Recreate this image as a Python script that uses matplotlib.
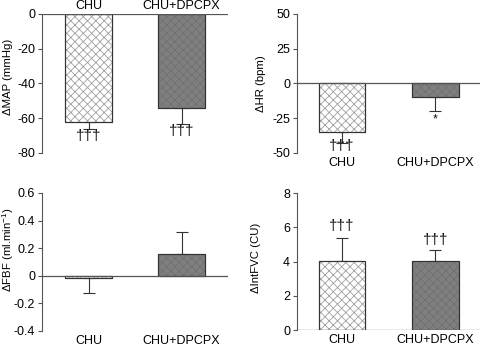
import numpy as np
import matplotlib
matplotlib.use("Agg")
import matplotlib.pyplot as plt
from matplotlib.transforms import blended_transform_factory

plt.rcParams['font.family'] = ['Liberation Sans', 'DejaVu Sans']
plt.rcParams['font.size'] = 9
plt.rcParams['hatch.linewidth'] = 0.6
plt.rcParams['mathtext.fontset'] = 'custom'
plt.rcParams['mathtext.rm'] = 'Liberation Sans'

groups = ['CHU', 'CHU+DPCPX']

# mean change and error bar length (one-sided SEM)
map_vals = [-62, -54]
map_err = [4, 9.5]
hr_vals = [-35, -10]
hr_err = [8, 9.5]
fbf_vals = [-0.015, 0.16]
fbf_err = [0.11, 0.155]
fvc_vals = [4.05, 4.02]
fvc_err = [1.35, 0.65]

map_marks = ['†††', '†††']
hr_marks = ['†††', '*']
fbf_marks = ['', '']
fvc_marks = ['†††', '†††']

fig = plt.figure(figsize=(4.8, 3.46), dpi=100)

# axes rectangles in figure fraction (left, bottom, width, height)
rects = [
    [0.0875, 0.558, 0.3875, 0.402],
    [0.619, 0.558, 0.385, 0.402],
    [0.0875, 0.0434, 0.3875, 0.399],
    [0.619, 0.046, 0.385, 0.396],
]

panels = [
    dict(vals=map_vals, err=map_err, marks=map_marks, ylim=(-80, 0), yticks=[0, -20, -40, -60, -80],
         ylabel='ΔMAP (mmHg)', label_y=1.058, mark_y=[-70, -67.5], xlim=(-0.5, 1.5),
         lab_xy=(-0.158, 0.55)),
    dict(vals=hr_vals, err=hr_err, marks=hr_marks, ylim=(-50, 50), yticks=[50, 25, 0, -25, -50],
         ylabel='ΔHR (bpm)', label_y=-0.072, mark_y=[-45, -26], xlim=(-0.48, 1.5),
         lab_xy=(-0.17, 0.5)),
    dict(vals=fbf_vals, err=fbf_err, marks=fbf_marks, ylim=(-0.4, 0.6), yticks=[0.6, 0.4, 0.2, 0, -0.2, -0.4],
         ylabel='ΔFBF (ml.min$^{-1}$)', label_y=-0.072, mark_y=[0, 0], xlim=(-0.5, 1.5),
         lab_xy=(-0.14, 0.587)),
    dict(vals=fvc_vals, err=fvc_err, marks=fvc_marks, ylim=(0, 8), yticks=[8, 6, 4, 2, 0],
         ylabel='ΔIntFVC (CU)', label_y=-0.072, mark_y=[6.1, 5.25], xlim=(-0.48, 1.5),
         lab_xy=(-0.196, 0.526)),
]

faces = ['white', '#7f7f7f']
hatch_cols = ['#a0a0a0', '#707070']
x = np.arange(len(groups))

for rect, p in zip(rects, panels):
    ax = fig.add_axes(rect)
    for i in range(len(groups)):
        v = p['vals'][i]
        ax.bar(x[i], v, width=0.5, color=faces[i], edgecolor='#333333', linewidth=0.8, zorder=2)
        ax.bar(x[i], v, width=0.5, color='none', edgecolor=hatch_cols[i], hatch='xxxx',
               linewidth=0, zorder=3)
        ax.bar(x[i], v, width=0.5, color='none', edgecolor='#333333', linewidth=0.8, zorder=4)
        sign = 1 if v >= 0 else -1
        lo = [0] if sign > 0 else [p['err'][i]]
        hi = [p['err'][i]] if sign > 0 else [0]
        ax.errorbar(x[i], v, yerr=[lo, hi], fmt='none', ecolor='#333333', elinewidth=0.8,
                    capsize=4, capthick=0.8, zorder=1)
        if p['marks'][i]:
            ax.text(x[i], p['mark_y'][i], p['marks'][i], ha='center', va='center',
                    fontsize=11 if p['marks'][i] != '*' else 9, color='#111111')
    ax.axhline(0, color='#555555', linewidth=0.9, zorder=5)
    ax.set_xlim(*p['xlim'])
    ax.set_ylim(*p['ylim'])
    ax.set_yticks(p['yticks'])
    ax.set_yticklabels([('%g' % t) for t in p['yticks']])
    ax.set_xticks([])
    for s in ['top', 'right', 'bottom']:
        ax.spines[s].set_visible(False)
    ax.spines['left'].set_color('#555555')
    ax.spines['left'].set_linewidth(0.8)
    ax.tick_params(axis='y', direction='out', length=3, width=0.8, color='#555555', pad=2, labelsize=9)
    ax.set_ylabel(p['ylabel'], fontsize=8.2)
    ax.yaxis.set_label_coords(*p['lab_xy'])
    ax.patch.set_alpha(0)
    tr = blended_transform_factory(ax.transData, ax.transAxes)
    for i, g in enumerate(groups):
        ax.text(x[i], p['label_y'], g, transform=tr, ha='center', va='center', fontsize=9)

fig.savefig('out.png', dpi=100)
